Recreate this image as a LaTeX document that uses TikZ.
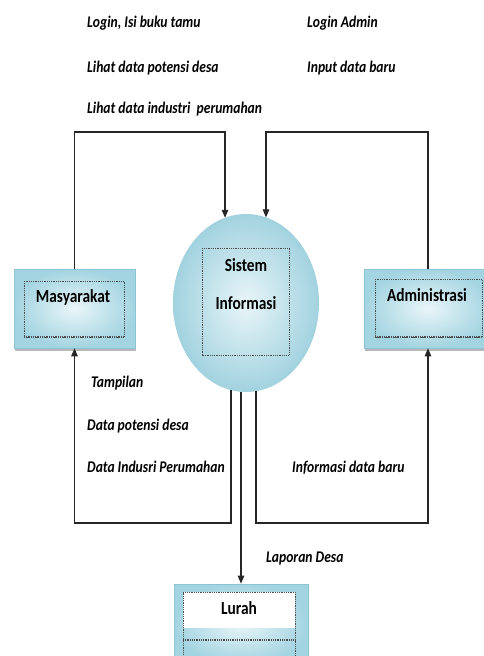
\documentclass[tikz,border=0pt]{standalone}
\usepackage{fontspec}
\usepackage{graphicx}
\setmainfont{Carlito}
\usetikzlibrary{arrows.meta,shapes.geometric,shadows}
\definecolor{boxdark}{HTML}{A3D4E1}
\definecolor{boxlight}{HTML}{E8F5F8}
\definecolor{procdark}{HTML}{A2D2DF}
\definecolor{boxedge}{HTML}{8CC4D4}
\definecolor{linecol}{HTML}{262626}
\newcommand{\vst}[1]{\scalebox{1}[1.2]{#1}}
\begin{document}
\begin{tikzpicture}[x=1pt,y=-1pt,
  entity/.style={draw=boxedge, line width=0.6pt, inner color=boxlight, outer color=boxdark,
    drop shadow={shadow xshift=1pt, shadow yshift=-3pt, fill=gray!70, opacity=0.8}, inner sep=0pt},
  process/.style={ellipse, inner color=boxlight, outer color=procdark, inner sep=0pt,
    minimum width=146pt, minimum height=178pt},
  frame/.style={draw=black!70, line width=0.8pt, dash pattern=on 0.9pt off 0.9pt},
  thickframe/.style={draw=black!70, line width=2.4pt, dash pattern=on 0.9pt off 0.9pt},
  flow/.style={draw=linecol, line width=1.1pt, -{Triangle[length=8pt,width=6.5pt]}},
  flowlabel/.style={font=\bfseries\itshape\fontsize{13.6}{16}\selectfont, anchor=base west, inner sep=0pt},
  entlabel/.style={font=\bfseries\fontsize{15.4}{18}\selectfont, inner sep=0pt}
]
\useasboundingbox (0,0) rectangle (484,656);

% entities
\node[entity, minimum width=121pt, minimum height=79pt] (mas) at (74.5,308.5) {};
\draw[frame] (24,281) rectangle (124,337);
\draw[thickframe] (24,337) -- (124,337);
\node[entlabel] (masl) at (73,297) {\vst{Masyarakat}};

\node[entity, minimum width=128pt, minimum height=79pt] (adm) at (428,308.5) {};
\draw[frame] (375,279) rectangle (482,337);
\draw[thickframe] (375,337) -- (482,337);
\node[entlabel] (adml) at (427,295) {\vst{Administrasi}};

\node[entity, minimum width=134pt, minimum height=80pt] (lur) at (241,624) {};
\fill[white] (183,592) rectangle (295,628);
\draw[frame] (183,660) -- (183,592) -- (295,592) -- (295,660);
\draw[thickframe] (183,640) -- (295,640);
\node[entlabel] (lurl) at (239,608) {\vst{Lurah}};

% process
\node[process] (sys) at (246,303) {};
\draw[frame] (202,248) rectangle (289,355);
\node[entlabel] (sysl1) at (246,265) {\vst{Sistem}};
\node[entlabel] (sysl2) at (246,303) {\vst{Informasi}};

% connector points
\coordinate (t1) at (225,132);
\coordinate (t2) at (266,132);
\coordinate (in1) at (225,217.8);
\coordinate (in2) at (266,217.4);
\coordinate (o1) at (231,390.1);
\coordinate (o2) at (241,391.8);
\coordinate (o3) at (256,391.2);
\coordinate (b) at (0,523);

\draw[flow] (mas.north) |- (t1) -- (in1);
\draw[flow] (adm.north) |- (t2) -- (in2);
\draw[flow] (o1) |- (mas.south |- b) -- (mas.south);
\draw[flow] (o3) |- (adm.south |- b) -- (adm.south);
\draw[flow] (o2) -- (lur.north);

% flow labels
\node[flowlabel] (f1) at (87,27) {\vst{Login, Isi buku tamu}};
\node[flowlabel] (f2) at (87,72) {\vst{Lihat data potensi desa}};
\node[flowlabel] (f3) at (87,113) {\vst{Lihat data industri\ \ perumahan}};
\node[flowlabel] (f4) at (307,27) {\vst{Login Admin}};
\node[flowlabel] (f5) at (307,72) {\vst{Input data baru}};
\node[flowlabel] (f6) at (91,387) {\vst{Tampilan}};
\node[flowlabel] (f7) at (87,430) {\vst{Data potensi desa}};
\node[flowlabel] (f8) at (87,472) {\vst{Data Indusri Perumahan}};
\node[flowlabel] (f9) at (292,472) {\vst{Informasi data baru}};
\node[flowlabel] (f10) at (266,562) {\vst{Laporan Desa}};
\end{tikzpicture}
\end{document}
